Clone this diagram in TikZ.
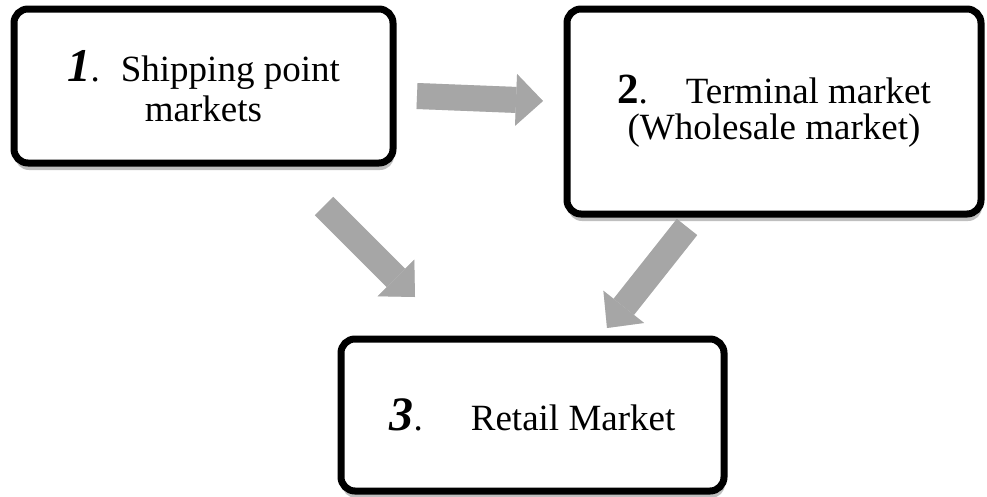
\documentclass[tikz,border=0pt]{standalone}
\usepackage{fontspec}
\setmainfont{Liberation Serif}
\usetikzlibrary{arrows.meta,shadows}
\definecolor{arrowgray}{RGB}{166,166,166}
\begin{document}
\begin{tikzpicture}[x=1pt,y=-1pt,
  mbox/.style={draw=black,line width=7pt,rounded corners=14pt,fill=white,inner sep=0pt,align=center,
    drop shadow={shadow xshift=1pt,shadow yshift=-7pt,opacity=0.25,fill=black}},
  blockarrow/.style={draw=arrowgray,line width=26pt,
    -{Triangle[length=27pt,width=52pt,line width=0pt]}},
  arrowshadow/.style={blockarrow,draw=black,opacity=0.12,shift={(1.5,3)}},
]
\useasboundingbox (0,0) rectangle (987,496);

% boxes
\node[mbox,minimum width=379pt,minimum height=154pt,font=\fontsize{37}{40}\selectfont] (b1) at (203.5,86)
  {{\fontsize{47}{40}\selectfont\bfseries\itshape 1}.\hspace{21pt}Shipping point\\markets};
\node[mbox,minimum width=414pt,minimum height=205pt,font=\fontsize{37}{36}\selectfont] (b2) at (774,111.5)
  {{\fontsize{43}{36}\selectfont\bfseries 2}.\hspace{38pt}Terminal market\\(Wholesale market)};
\node[mbox,minimum width=383pt,minimum height=152pt,font=\fontsize{37}{40}\selectfont] (b3) at (532.5,415)
  {{\fontsize{48}{40}\selectfont\bfseries\itshape 3}.\hspace{48pt}Retail Market};

% arrow end points
\coordinate (a1s) at (417,96);  \coordinate (a1e) at (543,101);
\coordinate (a2s) at (324,206); \coordinate (a2e) at (415,297);
\coordinate (a3s) at (687,227); \coordinate (a3e) at (607,328);

% shadows of arrows
\draw[arrowshadow] (a1s) -- (a1e);
\draw[arrowshadow] (a2s) -- (a2e);
\draw[arrowshadow] (a3s) -- (a3e);
% arrows
\draw[blockarrow] (a1s) -- (a1e);
\draw[blockarrow] (a2s) -- (a2e);
\draw[blockarrow] (a3s) -- (a3e);
\end{tikzpicture}
\end{document}
